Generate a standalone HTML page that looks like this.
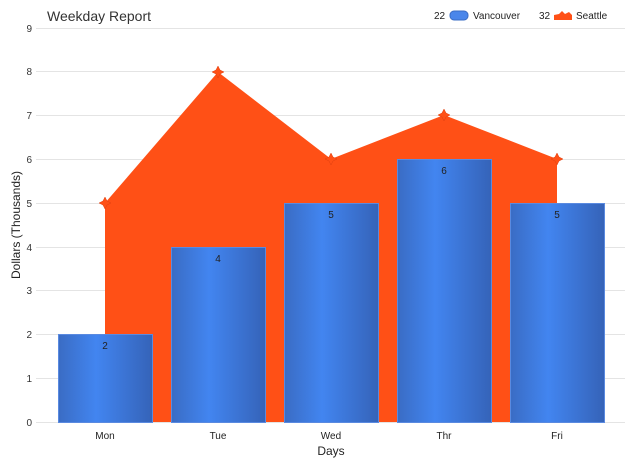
<!DOCTYPE html><html><head><style>body{margin:0;background:#fff}svg{font-family:"Liberation Sans",sans-serif}</style></head><body>
<svg width="633" height="466" viewBox="0 0 633 466">
<defs><linearGradient id="g" x1="0" x2="1"><stop offset="0" stop-color="#3a6cc4"/><stop offset="0.4" stop-color="#4285f0"/><stop offset="1" stop-color="#3563b8"/></linearGradient></defs>
<text x="47" y="21" font-size="14" fill="#333">Weekday Report</text>
<g stroke="#e4e4e4" stroke-width="1">
<line x1="36" x2="625" y1="422.5" y2="422.5"/><line x1="36" x2="625" y1="378.5" y2="378.5"/><line x1="36" x2="625" y1="334.5" y2="334.5"/><line x1="36" x2="625" y1="290.5" y2="290.5"/><line x1="36" x2="625" y1="247.5" y2="247.5"/><line x1="36" x2="625" y1="203.5" y2="203.5"/><line x1="36" x2="625" y1="159.5" y2="159.5"/><line x1="36" x2="625" y1="115.5" y2="115.5"/><line x1="36" x2="625" y1="71.5" y2="71.5"/><line x1="36" x2="625" y1="28.5" y2="28.5"/>
</g>
<g font-size="10" fill="#333" text-anchor="end">
<text x="32" y="426">0</text><text x="32" y="382">1</text><text x="32" y="338">2</text><text x="32" y="294">3</text><text x="32" y="251">4</text><text x="32" y="207">5</text><text x="32" y="163">6</text><text x="32" y="119">7</text><text x="32" y="75">8</text><text x="32" y="32">9</text>
</g>
<polygon points="105,422 105,203 218,72 331,159 444,115 557,159 557,422" fill="#ff5016"/>
<g fill="#ff5016" stroke="#e04010" stroke-width="0.5">
<path d="M105,197 l2,4 4,2 -4,2 -2,4 -2,-4 -4,-2 4,-2z"/><path d="M218,66 l2,4 4,2 -4,2 -2,4 -2,-4 -4,-2 4,-2z"/><path d="M331,153 l2,4 4,2 -4,2 -2,4 -2,-4 -4,-2 4,-2z"/><path d="M444,109 l2,4 4,2 -4,2 -2,4 -2,-4 -4,-2 4,-2z"/><path d="M557,153 l2,4 4,2 -4,2 -2,4 -2,-4 -4,-2 4,-2z"/>
</g>
<g fill="url(#g)" stroke="#5a8ae0" stroke-width="1">
<rect x="58.5" y="334.5" width="94" height="88"/><rect x="171.5" y="247.5" width="94" height="175"/><rect x="284.5" y="203.5" width="94" height="219"/><rect x="397.5" y="159.5" width="94" height="263"/><rect x="510.5" y="203.5" width="94" height="219"/>
</g>
<g font-size="10" fill="#222" text-anchor="middle">
<text x="105" y="349">2</text><text x="218" y="262">4</text><text x="331" y="218">5</text><text x="444" y="174">6</text><text x="557" y="218">5</text>
<text x="105" y="439">Mon</text><text x="218" y="439">Tue</text><text x="331" y="439">Wed</text><text x="444" y="439">Thr</text><text x="557" y="439">Fri</text>
</g>
<text x="331" y="455" font-size="12" fill="#222" text-anchor="middle">Days</text>
<text transform="translate(20,225) rotate(-90)" font-size="12" fill="#222" text-anchor="middle">Dollars (Thousands)</text>
<g font-size="10" fill="#222">
<text x="434" y="19">22</text><rect x="450" y="11" width="18" height="9" rx="4" fill="#4a86ea" stroke="#3a6cc4"/><text x="473" y="19">Vancouver</text>
<text x="539" y="19">32</text><path d="M554,20 l0,-5 5,-1 3,-3 3,3 4,-2 3,3 0,5z" fill="#ff5016"/><text x="576" y="19">Seattle</text>
</g>
</svg></body></html>
